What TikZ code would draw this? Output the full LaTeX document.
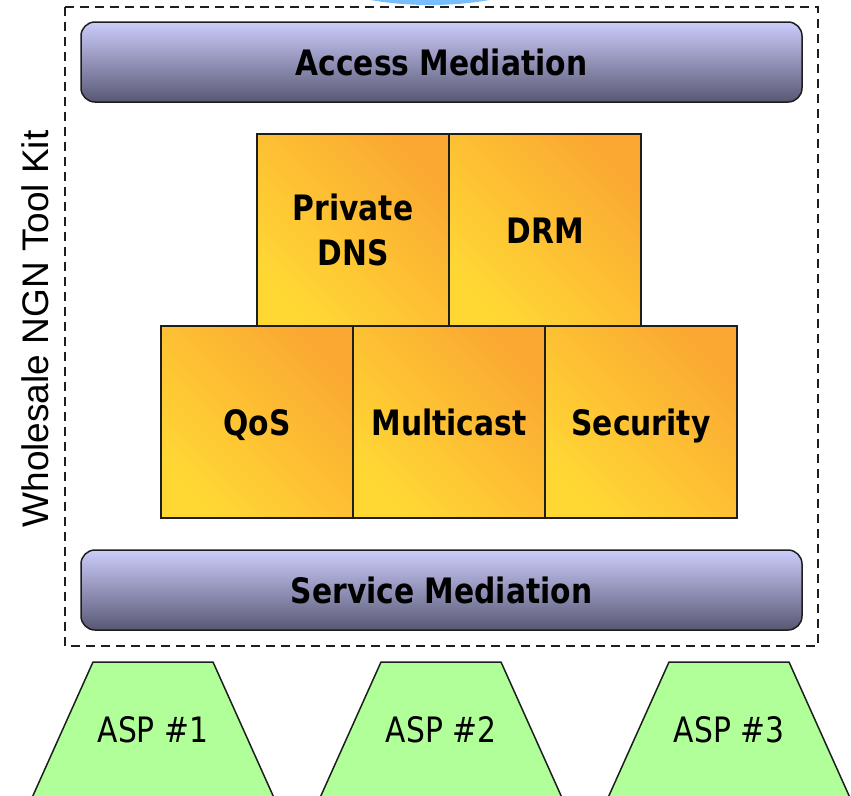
\documentclass[tikz,border=0pt]{standalone}
\usepackage{fontspec}
\setmainfont{DejaVu Sans}
\newfontfamily\tahfont[FakeStretch=0.85]{DejaVu Sans}
\newfontfamily\sidefont{Liberation Sans}
\definecolor{barTop}{RGB}{204,204,252}
\definecolor{barMid}{RGB}{164,164,208}
\definecolor{barBot}{RGB}{88,88,116}
\definecolor{tileA}{RGB}{255,216,52}
\definecolor{tileB}{RGB}{251,168,50}
\definecolor{aspGreen}{RGB}{176,255,152}
\definecolor{cloudBlue}{RGB}{120,190,255}
\definecolor{edge}{RGB}{30,30,30}
\tikzset{
  bar/.style={draw=edge, line width=1.5pt, rounded corners=14pt,
    minimum width=721pt, minimum height=80pt, inner sep=0pt,
    top color=barTop, middle color=barMid, bottom color=barBot,
    font=\tahfont\fontsize{35}{42}\selectfont\bfseries},
  tile/.style={draw=edge, line width=1.5pt, minimum width=192pt,
    minimum height=192pt, inner sep=0pt, align=center,
    top color=tileB, bottom color=tileA, shading angle=-45,
    font=\tahfont\fontsize{35}{45}\selectfont\bfseries},
  oneline/.style={text height=27pt, text depth=0pt},
  aspshape/.style={fill=aspGreen, draw=edge, line width=1.5pt, line join=miter},
  asplabel/.style={anchor=base, inner sep=0pt,
    font=\tahfont\fontsize{35}{42}\selectfont},
  kitframe/.style={draw=edge, line width=1.5pt, dash pattern=on 9pt off 6pt}
}
\begin{document}
\begin{tikzpicture}[x=1pt,y=-1pt]
\useasboundingbox (0,0) rectangle (851,795);
\clip (0,0) rectangle (851,795);

% cloud peeking in from above
\fill[cloudBlue] (430,-40) ellipse [x radius=130, y radius=45];

% tool kit frame
\draw[kitframe] (65,7) rectangle (818,646);
\node[font=\sidefont\fontsize{37}{40}\selectfont, rotate=90]
  (kitlabel) at (35,329) {Wholesale NGN Tool Kit};

% mediation layers
\node[bar] (access) at (441.5,62) {Access Mediation};
\node[bar] (service) at (441.5,590) {Service Mediation};

% function tiles
\node[tile] (dns) at (353,230) {Private\\DNS};
\node[tile, oneline] (drm) at (545,230) {DRM};
\node[tile, oneline] (qos) at (257,422) {QoS};
\node[tile, oneline] (mcast) at (449,422) {Multicast};
\node[tile, oneline] (sec) at (641,422) {Security};

% application service providers
\foreach \cx/\n in {153/1, 441/2, 729/3}{
  \draw[aspshape] (\cx-122,800) -- (\cx-60,662) -- (\cx+60,662) -- (\cx+122,800);
  \node[asplabel] (asp\n) at (\cx,742) {ASP \#\n};
}
\end{tikzpicture}
\end{document}
